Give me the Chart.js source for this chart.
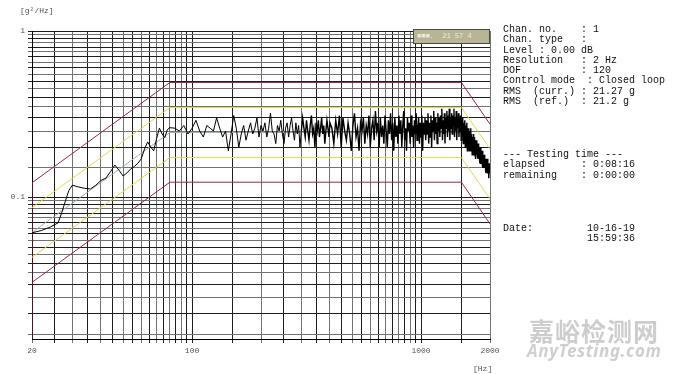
<!DOCTYPE html>
<html>
<head>
<meta charset="utf-8">
<script src="https://cdn.jsdelivr.net/npm/chart.js@4"></script>
<style>
  html, body { margin: 0; padding: 0; background: #fff; }
  #wrap { position: relative; width: 680px; height: 374px; overflow: hidden; }
  canvas { position: absolute; left: 0; top: 0; }
  .t { position: absolute; font-family: "Liberation Mono", "DejaVu Sans Mono", monospace; white-space: pre; color: #111; }
  .panel { font-size: 10px; line-height: 10.3px; }
  .ax { font-size: 8px; color: #555; }
  #legendBox { position: absolute; left: 413px; top: 29px; width: 72px; height: 13px; background: #b8b597; border: 1px solid #4a4a40; font-family: "Liberation Mono", monospace; font-size: 7px; line-height: 13px; color: #ece9da; white-space: pre; padding-left: 3px; box-sizing: content-box; }
  .wm1 { position: absolute; left: 529px; top: 312px; font-family: "Noto Sans CJK SC", sans-serif; font-weight: 700; font-size: 25px; color: #cdcdcd; letter-spacing: 1px; }
  .wm2 { position: absolute; left: 527px; top: 339px; font-family: "Noto Sans", sans-serif; font-style: italic; font-weight: 700; font-size: 17px; color: #cfcfcf; letter-spacing: 0.6px; }
</style>
</head>
<body>
<div id="wrap">
  <canvas id="c" width="680" height="374"></canvas>
  <div class="t ax" style="left:20px; top:6px;">[g²/Hz]</div>
  <div class="t ax" style="left:473px; top:364px;">[Hz]</div>
  <div id="legendBox">■■■.  21 57 4</div>
  <div class="t panel" style="left:503px; top:25px;">Chan. no.    : 1
Chan. type   :
Level : 0.00 dB
Resolution   : 2 Hz
DOF          : 120
Control mode  : Closed loop
RMS  (curr.) : 21.27 g
RMS  (ref.)  : 21.2 g</div>
  <div class="t panel" style="left:503px; top:150px;">--- Testing time ---
elapsed      : 0:08:16
remaining    : 0:00:00</div>
  <div class="t panel" style="left:503px; top:224px;">Date:         10-16-19
              15:59:36</div>
  <div class="wm1">嘉峪检测网</div>
  <div class="wm2">AnyTesting.com</div>
</div>
<script>
// ---------- DATA ----------
// axis grid lines / tick labels
const xGridHz = [20,25,30,35,40,45,50,55,60,65,70,75,80,85,90,95,100,150,200,250,300,350,400,450,500,550,600,650,700,750,800,850,900,950,1000,1500,2000];
const xTickLabels = { 20: '20', 100: '100', 1000: '1000', 2000: '2000' };
const yGridPsd = [0.015,0.02,0.025,0.03,0.035,0.04,0.045,0.05,0.055,0.06,0.065,0.07,0.075,0.08,0.085,0.09,0.095,0.1,0.15,0.2,0.25,0.3,0.35,0.4,0.45,0.5,0.55,0.6,0.65,0.7,0.75,0.8,0.85,0.9,0.95,1];
const yTickLabels = { 0.1: '0.1', 1: '1' };
const xMinHz = 20, xMaxHz = 2000;
const yMinPsd = 0.014, yMaxPsd = 1;

// reference profile and tolerance bands (breakpoints)
const profileHz    = [20, 80, 1500, 2000];
const referencePsd = [0.0613, 0.245, 0.245, 0.138];
const alarmHighPsd = [0.0865, 0.346, 0.346, 0.195];
const alarmLowPsd  = [0.0434, 0.173, 0.173, 0.0975];
const abortHighPsd = [0.122, 0.49, 0.49, 0.275];
const abortLowPsd  = [0.0307, 0.123, 0.123, 0.069];

// control (measured) PSD, low-frequency part
const lfHz  = [20,22,24,26,27,28,29,30,32,34,36,38,40,42,44,46,48,50,52,54,56,58,60,62,64,66,68,70,72,74,76,78,80];
const lfPsd = [0.061,0.063,0.066,0.070,0.081,0.095,0.110,0.118,0.115,0.113,0.112,0.118,0.126,0.130,0.142,0.156,0.145,0.134,0.140,0.148,0.153,0.160,0.170,0.195,0.215,0.200,0.190,0.225,0.260,0.240,0.228,0.255,0.262];

// control PSD, 84..400 Hz, one value every 4 Hz
const midStartHz = 84, midStepHz = 4;
const midPsd = [
  0.26,0.25,0.27,0.24,0.26,0.29,0.25,0.23,0.27,0.26,
  0.25,0.30,0.26,0.23,0.25,0.19,0.24,0.31,0.26,0.20,
  0.24,0.27,0.22,0.25,0.28,0.24,0.26,0.30,0.23,0.27,
  0.25,0.28,0.23,0.26,0.32,0.25,0.24,0.21,0.27,0.25,
  0.29,0.24,0.21,0.26,0.28,0.23,0.27,0.30,0.25,0.22,
  0.28,0.24,0.27,0.20,0.25,0.30,0.26,0.23,0.29,0.25,
  0.22,0.27,0.31,0.24,0.26,0.20,0.28,0.25,0.29,0.23,
  0.26,0.30,0.24,0.27,0.21,0.25,0.29,0.26,0.23,0.28
];

// control PSD, 408..2000 Hz, one value every 8 Hz
const highStartHz = 408, highStepHz = 8;
const highPsd = [
  0.26,0.21,0.29,0.24,0.31,0.20,0.30,0.25,0.22,0.28,
  0.24,0.19,0.27,0.32,0.23,0.26,0.19,0.28,0.25,0.30,
  0.21,0.27,0.24,0.31,0.20,0.26,0.29,0.22,0.33,0.25,
  0.28,0.20,0.30,0.23,0.27,0.21,0.31,0.25,0.20,0.29,
  0.24,0.32,0.22,0.28,0.19,0.30,0.23,0.27,0.21,0.31,
  0.24,0.29,0.20,0.27,0.33,0.22,0.26,0.19,0.30,0.25,
  0.28,0.21,0.31,0.23,0.27,0.20,0.29,0.24,0.32,0.22,
  0.26,0.30,0.21,0.28,0.23,0.31,0.19,0.28,0.24,0.30,
  0.22,0.29,0.24,0.32,0.21,0.28,0.23,0.31,0.20,0.29,
  0.25,0.33,0.22,0.30,0.24,0.28,0.21,0.32,0.25,0.30,
  0.23,0.31,0.26,0.34,0.22,0.29,0.24,0.32,0.21,0.30,
  0.26,0.33,0.23,0.31,0.25,0.34,0.22,0.30,0.26,0.32,
  0.24,0.31,0.27,0.34,0.23,0.30,0.25,0.33,0.22,0.29,
  0.26,0.32,0.23,0.30,0.25,0.31,0.22,0.29,0.24,0.30,
  0.21,0.28,0.23,0.29,0.20,0.27,0.22,0.28,0.19,0.26,
  0.21,0.26,0.19,0.25,0.20,0.26,0.19,0.24,0.18,0.23,
  0.19,0.24,0.18,0.23,0.18,0.22,0.17,0.22,0.18,0.21,
  0.17,0.21,0.17,0.20,0.16,0.20,0.16,0.20,0.16,0.19,
  0.16,0.19,0.15,0.18,0.15,0.18,0.15,0.17,0.14,0.17,
  0.15,0.17,0.14,0.17,0.14,0.16,0.13,0.16,0.14,0.15
];

// ---------- BUILD ----------
const pts = (xs, ys) => xs.map((x, i) => ({ x: x, y: ys[i] }));
const controlPts = pts(lfHz, lfPsd)
  .concat(midPsd.map((v, i) => ({ x: midStartHz + i * midStepHz, y: v })))
  .concat(highPsd.map((v, i) => ({ x: highStartHz + i * highStepHz, y: v })));

const ABORT = '#982846', ALARM = '#e2d84c', REF = '#9db3a4';
const DARK = '#1e1e1e', GREY = '#727272';

function decadeFrac(v) {
  const d = Math.pow(10, Math.floor(Math.log10(v) + 1e-9));
  return v / d;
}
function isWhole(v) { const f = decadeFrac(v); return Math.abs(f - Math.round(f)) < 1e-6; }

const lineDs = (label, data, color, order, extra) => Object.assign({
  label, data, borderColor: color, borderWidth: 1, pointRadius: 0, fill: false, tension: 0, order
}, extra || {});

new Chart(document.getElementById('c'), {
  type: 'line',
  data: {
    datasets: [
      lineDs('Control', controlPts, '#000', 0, {
        segment: { borderWidth: (ctx) => (ctx.p0.parsed.x >= 300 ? 1.4 : 1) }
      }),
      lineDs('Reference', pts(profileHz, referencePsd), REF, 1),
      lineDs('Alarm high', pts(profileHz, alarmHighPsd), ALARM, 2),
      lineDs('Alarm low', pts(profileHz, alarmLowPsd), ALARM, 2),
      lineDs('Abort high', pts(profileHz, abortHighPsd), ABORT, 3),
      lineDs('Abort low', pts(profileHz, abortLowPsd), ABORT, 3),
      lineDs('Abort edge', [{ x: xMinHz, y: yMinPsd }, { x: xMinHz, y: abortHighPsd[0] }], ABORT, 3)
    ]
  },
  options: {
    responsive: false,
    animation: false,
    layout: { padding: { left: 0, top: 31, right: 190, bottom: 0 } },
    plugins: { legend: { display: false }, tooltip: { enabled: false } },
    scales: {
      x: {
        type: 'logarithmic',
        min: xMinHz, max: xMaxHz,
        afterBuildTicks: (s) => { s.ticks = xGridHz.map(v => ({ value: v })); },
        afterFit: (s) => { s.height = 35; },
        border: { color: '#000', width: 1 },
        grid: {
          drawTicks: true, tickLength: 4, lineWidth: 1,
          color: (ctx) => {
            if (!ctx.tick) return DARK;
            const v = ctx.tick.value;
            if (Math.abs(decadeFrac(v) - 1) < 1e-6) return DARK;
            return isWhole(v) ? GREY : DARK;
          }
        },
        ticks: {
          autoSkip: false, maxRotation: 0, minRotation: 0, padding: 3,
          color: '#555', font: { family: 'Liberation Mono', size: 8 },
          callback: (v) => xTickLabels[v] || ''
        }
      },
      y: {
        type: 'logarithmic',
        min: yMinPsd, max: yMaxPsd,
        afterBuildTicks: (s) => { s.ticks = yGridPsd.map(v => ({ value: v })); },
        afterFit: (s) => { s.width = 32; },
        border: { color: '#000', width: 1 },
        grid: {
          drawTicks: true, tickLength: 4, lineWidth: 1,
          color: (ctx) => {
            if (!ctx.tick) return DARK;
            return isWhole(ctx.tick.value) ? DARK : GREY;
          }
        },
        ticks: {
          autoSkip: false, padding: 3,
          color: '#555', font: { family: 'Liberation Mono', size: 8 },
          callback: (v) => yTickLabels[v] || ''
        }
      }
    }
  }
});
</script>
</body>
</html>
